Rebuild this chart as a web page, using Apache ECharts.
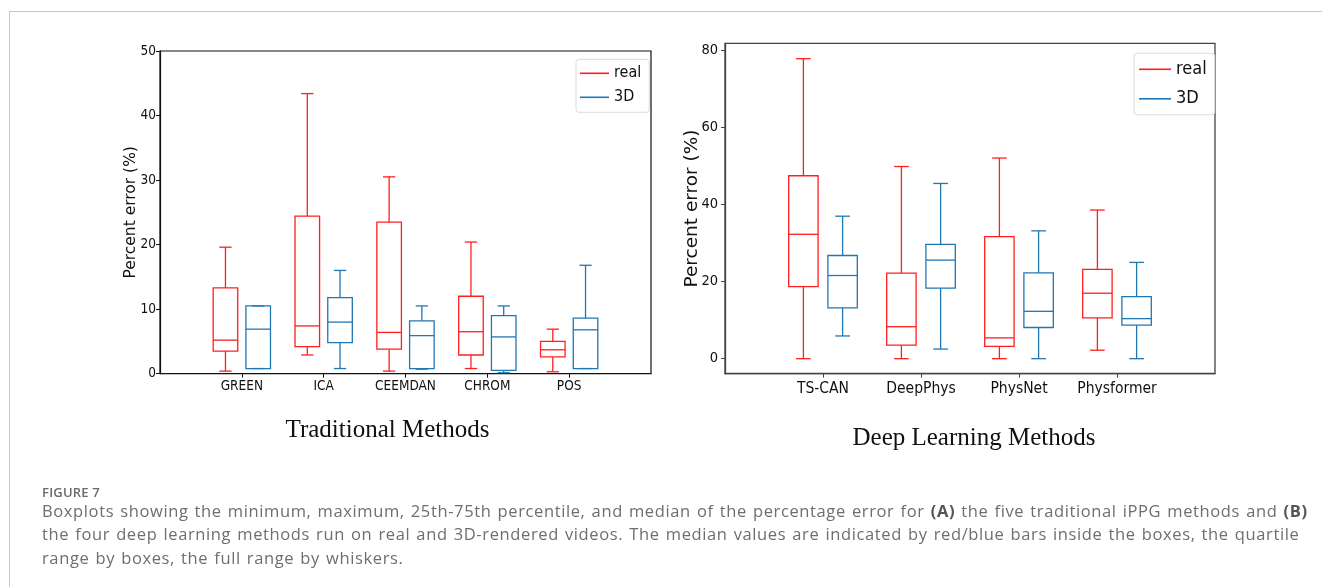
<!DOCTYPE html>
<html>
<head>
<meta charset="utf-8">
<script src="https://cdn.jsdelivr.net/npm/echarts@6/dist/echarts.min.js"></script>
<style>
html,body{margin:0;padding:0;background:#fff;}
#wrap{position:relative;width:1322px;height:587px;overflow:hidden;background:#fff;}
#chart{position:absolute;left:0;top:0;width:1322px;height:587px;}
#frame{position:absolute;left:9px;top:11px;width:1330px;height:600px;border-left:1px solid #c8c8c8;border-top:1px solid #c8c8c8;pointer-events:none;}
#fig{position:absolute;left:42px;top:484px;font-family:'Open Sans',Lato,sans-serif;font-size:13px;line-height:16px;font-weight:600;color:#6a6a6a;letter-spacing:0.2px;white-space:nowrap;}
#cap{position:absolute;left:42px;top:499px;font-family:'Open Sans',Lato,sans-serif;font-size:16.5px;line-height:23.3px;color:#6e6e6e;white-space:nowrap;letter-spacing:0.62px;word-spacing:1.2px;}
#cap b{font-weight:700;color:#555;}
</style>
</head>
<body>
<div id="wrap">
  <div id="chart"></div>
  <div id="frame"></div>
  <div id="fig">FIGURE 7</div>
  <div id="cap">Boxplots showing the minimum, maximum, 25th-75th percentile, and median of the percentage error for <b>(A)</b> the five traditional iPPG methods and <b>(B)</b><br>the four deep learning methods run on real and 3D-rendered videos. The median values are indicated by red/blue bars inside the boxes, the quartile<br>range by boxes, the full range by whiskers.</div>
</div>
<script>
// ---- data: each entry is [min, q1, median, q3, max] ----
const tradCategories = ['GREEN', 'ICA', 'CEEMDAN', 'CHROM', 'POS'];
const tradReal = [
  [0.4, 3.5, 5.2, 13.3, 19.6],
  [2.9, 4.2, 7.4, 24.4, 43.4],
  [0.4, 3.8, 6.4, 23.5, 30.5],
  [0.8, 2.9, 6.5, 12.0, 20.4],
  [0.3, 2.6, 3.7, 5.0, 6.9]
];
const trad3D = [
  [0.8, 0.8, 6.9, 10.5, 10.5],
  [0.8, 4.8, 8.0, 11.8, 16.0],
  [0.7, 0.8, 5.9, 8.2, 10.5],
  [0.15, 0.5, 5.7, 9.0, 10.5],
  [0.8, 0.8, 6.8, 8.6, 16.8]
];
const dlCategories = ['TS-CAN', 'DeepPhys', 'PhysNet', 'Physformer'];
const dlReal = [
  [0, 18.7, 32.3, 47.5, 77.9],
  [0, 3.5, 8.3, 22.2, 49.9],
  [0, 3.2, 5.4, 31.7, 52.1],
  [2.2, 10.6, 17.0, 23.2, 38.6]
];
const dl3D = [
  [5.9, 13.2, 21.6, 26.8, 37.0],
  [2.5, 18.3, 25.6, 29.7, 45.5],
  [0, 8.1, 12.3, 22.3, 33.2],
  [0, 8.7, 10.4, 16.1, 25.0]
];
const tradYTicks = [0, 10, 20, 30, 40, 50];
const dlYTicks = [0, 20, 40, 60, 80];
const seriesNames = ['real', '3D'];
const seriesColors = ['#ff1f1f', '#1f77b4'];
const chartTitles = ['Traditional Methods', 'Deep Learning Methods'];
const yName = 'Percent error (%)';

// ---- build ----
const OFFSET = 0.2, HALF = 0.15;
function toData(stats, off) {
  return stats.map((s, i) => [i + 1 + off].concat(s));
}
function boxRender(params, api) {
  const x = api.value(0);
  const mn = api.value(1), q1 = api.value(2), md = api.value(3), q3 = api.value(4), mx = api.value(5);
  const pMin = api.coord([x, mn]), pQ1 = api.coord([x, q1]), pMd = api.coord([x, md]);
  const pQ3 = api.coord([x, q3]), pMax = api.coord([x, mx]);
  const hw = api.size([HALF, 0])[0];
  const cw = hw / 2;
  const cx = pMd[0];
  const color = api.visual('color');
  const st = { stroke: color, lineWidth: 1.3, fill: null };
  const line = (x1, y1, x2, y2) => ({ type: 'line', shape: { x1, y1, x2, y2 }, style: st });
  return {
    type: 'group',
    children: [
      { type: 'rect', shape: { x: cx - hw, y: pQ3[1], width: 2 * hw, height: pQ1[1] - pQ3[1] }, style: { stroke: color, lineWidth: 1.3, fill: 'rgba(0,0,0,0)' } },
      line(cx - hw, pMd[1], cx + hw, pMd[1]),
      line(cx, pQ3[1], cx, pMax[1]),
      line(cx, pQ1[1], cx, pMin[1]),
      line(cx - cw, pMax[1], cx + cw, pMax[1]),
      line(cx - cw, pMin[1], cx + cw, pMin[1])
    ]
  };
}
const narrow = "'Liberation Sans Narrow','DejaVu Sans Condensed','Arial Narrow',sans-serif";
function mkSeries(name, color, data, idx) {
  return {
    name, type: 'custom', xAxisIndex: idx, yAxisIndex: idx,
    itemStyle: { color },
    encode: { x: 0, y: [1, 2, 3, 4, 5] },
    renderItem: boxRender, data, silent: true, clip: false
  };
}
const chart = echarts.init(document.getElementById('chart'), null, { renderer: 'canvas' });
const option = {
  backgroundColor: '#fff',
  animation: false,
  grid: [
    { left: 160, top: 51, width: 491, height: 322.7, show: true, borderColor: '#111', borderWidth: 1.2, backgroundColor: 'transparent' },
    { left: 725, top: 43.3, width: 490, height: 330.4, show: true, borderColor: '#444', borderWidth: 1.3, backgroundColor: 'transparent' }
  ],
  xAxis: [
    {
      type: 'value', gridIndex: 0, min: 0, max: tradCategories.length + 1, interval: 1,
      axisLine: { show: true, onZero: false, lineStyle: { color: '#111', width: 1.2 } },
      axisTick: { show: true, length: 4, customValues: tradCategories.map((c, i) => i + 1), lineStyle: { color: '#111' } },
      axisLabel: { customValues: tradCategories.map((c, i) => i + 1), formatter: v => tradCategories[Math.round(v) - 1] || '', fontSize: 13.5, color: '#111', margin: 6, fontFamily: narrow },
      splitLine: { show: false }
    },
    {
      type: 'value', gridIndex: 1, min: 0, max: dlCategories.length + 1, interval: 1,
      axisLine: { show: true, onZero: false, lineStyle: { color: '#444', width: 1.3 } },
      axisTick: { show: true, length: 4, customValues: dlCategories.map((c, i) => i + 1), lineStyle: { color: '#444' } },
      axisLabel: { customValues: dlCategories.map((c, i) => i + 1), formatter: v => dlCategories[Math.round(v) - 1] || '', fontSize: 15.5, color: '#111', margin: 7, fontFamily: narrow },
      splitLine: { show: false }
    }
  ],
  yAxis: [
    {
      type: 'value', gridIndex: 0, min: 0, max: 50, interval: 10,
      name: yName, nameLocation: 'middle', nameGap: 21, nameMoveOverlap: false,
      nameTextStyle: { fontSize: 15.5, color: '#111', fontFamily: "'DejaVu Sans',sans-serif" },
      axisLine: { show: true, lineStyle: { color: '#111', width: 1.2 } },
      axisTick: { show: true, length: 4, customValues: tradYTicks, lineStyle: { color: '#111' } },
      axisLabel: { customValues: tradYTicks, fontSize: 13.5, color: '#111', margin: 4, fontFamily: narrow },
      splitLine: { show: false }
    },
    {
      type: 'value', gridIndex: 1, min: -3.9, max: 81.9,
      name: yName, nameLocation: 'middle', nameGap: 23, nameMoveOverlap: false,
      nameTextStyle: { fontSize: 18.5, color: '#111', fontFamily: "'DejaVu Sans',sans-serif" },
      axisLine: { show: true, lineStyle: { color: '#444', width: 1.3 } },
      axisTick: { show: true, length: 4, customValues: dlYTicks, lineStyle: { color: '#444' } },
      axisLabel: { customValues: dlYTicks, fontSize: 14.5, color: '#111', margin: 7, fontFamily: narrow },
      splitLine: { show: false }
    }
  ],
  legend: [
    {
      data: seriesNames, orient: 'vertical', left: 576, top: 59.3,
      padding: [6, 8, 7, 4], itemGap: 8, itemWidth: 29, itemHeight: 1.6, icon: 'rect',
      backgroundColor: '#fff', borderColor: '#dcdcdc', borderWidth: 1, borderRadius: 3,
      textStyle: { fontSize: 16, color: '#111', fontFamily: narrow }
    },
    {
      data: seriesNames, orient: 'vertical', left: 1134, top: 53.3,
      padding: [7, 8, 7, 5], itemGap: 11.5, itemWidth: 32, itemHeight: 1.6, icon: 'rect',
      backgroundColor: '#fff', borderColor: '#dcdcdc', borderWidth: 1, borderRadius: 3,
      textStyle: { fontSize: 18, color: '#111', fontFamily: narrow }
    }
  ],
  graphic: [
    { type: 'text', x: 387.5, y: 430, style: { text: chartTitles[0], x: 0, y: 0, textAlign: 'center', textVerticalAlign: 'middle', font: "25px 'Liberation Serif','Times New Roman',serif", fill: '#111' } },
    { type: 'text', x: 974, y: 438, style: { text: chartTitles[1], x: 0, y: 0, textAlign: 'center', textVerticalAlign: 'middle', font: "25px 'Liberation Serif','Times New Roman',serif", fill: '#111' } }
  ],
  series: [
    mkSeries(seriesNames[0], seriesColors[0], toData(tradReal, -OFFSET), 0),
    mkSeries(seriesNames[1], seriesColors[1], toData(trad3D, OFFSET), 0),
    mkSeries(seriesNames[0], seriesColors[0], toData(dlReal, -OFFSET), 1),
    mkSeries(seriesNames[1], seriesColors[1], toData(dl3D, OFFSET), 1)
  ]
};
chart.setOption(option);
</script>
</body>
</html>
